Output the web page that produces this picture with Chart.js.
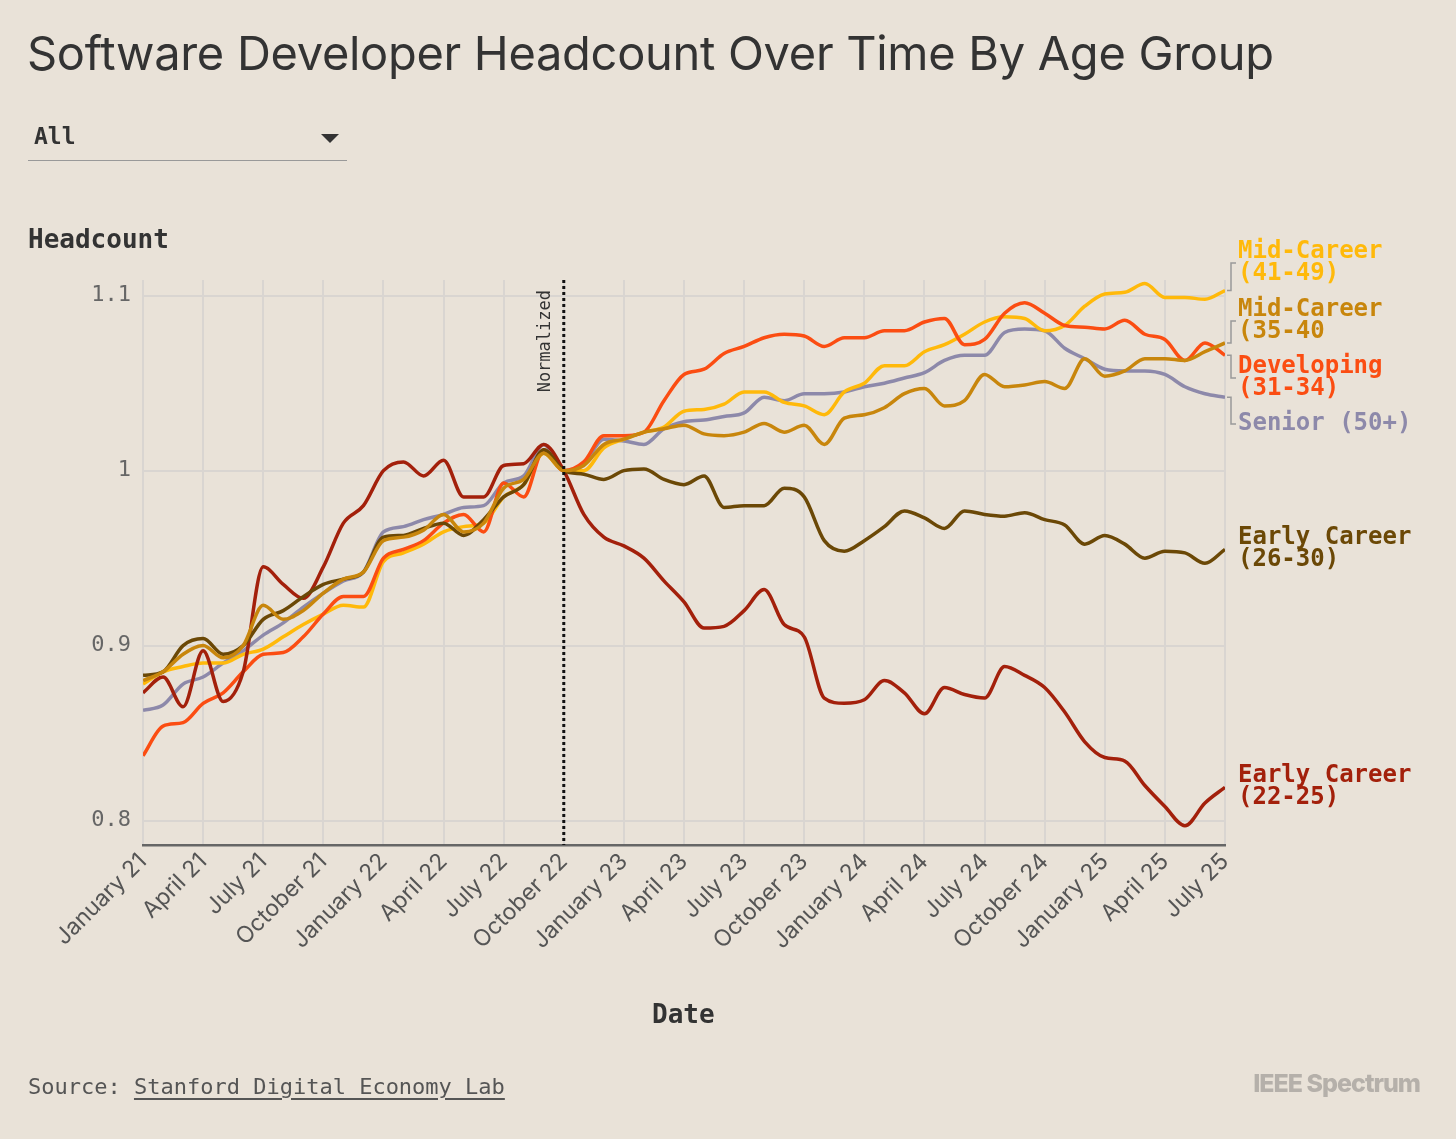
<!DOCTYPE html>
<html>
<head>
<meta charset="utf-8">
<script src="https://cdn.jsdelivr.net/npm/chart.js@4"></script>
<style>
  body { margin: 0; background: #e9e2d8; }
  #wrap { position: relative; width: 1456px; height: 1139px; overflow: hidden; font-family: "Inter", "Liberation Sans", sans-serif; color: #333; }
  #title { position: absolute; left: 27px; top: 24px; font-size: 47px; letter-spacing: -0.3px; color: #333; }
  #sel { position: absolute; left: 28px; top: 120px; width: 319px; height: 40px; border-bottom: 1px solid #999; font-family: "DejaVu Sans Mono", monospace; font-weight: bold; font-size: 23px; color: #333; }
  #sel span { position: absolute; left: 6px; top: 3px; }
  #sel i { position: absolute; right: 8px; top: 14px; width: 0; height: 0; border-left: 9px solid transparent; border-right: 9px solid transparent; border-top: 9px solid #333; }
  #ylab { position: absolute; left: 28px; top: 224px; font-family: "DejaVu Sans Mono", monospace; font-weight: bold; font-size: 26px; color: #333; }
  #xlab { position: absolute; left: 652px; top: 999px; font-family: "DejaVu Sans Mono", monospace; font-weight: bold; font-size: 26px; color: #333; }
  #src { position: absolute; left: 28px; top: 1074px; font-family: "DejaVu Sans Mono", monospace; font-size: 22px; color: #555; }
  #src u { text-underline-offset: 4px; }
  #logo { position: absolute; right: 36px; top: 1068px; font-family: "Inter", sans-serif; font-weight: 800; font-size: 25px; color: #b5b0aa; letter-spacing: -1px; }
  canvas { position: absolute; left: 0; top: 0; }
</style>
</head>
<body>
<div id="wrap">
  <canvas id="c" width="1456" height="1139"></canvas>
  <div id="title">Software Developer Headcount Over Time By Age Group</div>
  <div id="sel"><span>All</span><i></i></div>
  <div id="ylab">Headcount</div>
  <div id="xlab">Date</div>
  <div id="src">Source: <u>Stanford Digital Economy Lab</u></div>
  <div id="logo">IEEE Spectrum</div>
</div>
<script>
// 月份刻度标签（每3个月一个）
const tickLabels = ['January 21','April 21','July 21','October 21','January 22','April 22','July 22','October 22',
  'January 23','April 23','July 23','October 23','January 24','April 24','July 24','October 24',
  'January 25','April 25','July 25'];

// 数据：2021年1月 至 2025年7月，每月一个点
const early2225 = [0.873,0.882,0.865,0.897,0.868,0.885,0.945,0.935,0.927,0.945,0.97,0.98,1.0,1.005,0.997,1.006,0.985,0.985,1.003,1.004,1.015,1.0,
  0.975,0.962,0.957,0.95,0.937,0.925,0.91,0.911,0.92,0.932,0.912,0.905,0.87,0.867,0.869,0.88,0.873,0.861,0.876,0.872,0.87,0.888,0.883,0.876,0.862,0.845,0.836,0.834,0.82,0.808,0.797,0.81,0.819];
const early2630 = [0.883,0.885,0.9,0.904,0.895,0.9,0.915,0.92,0.928,0.935,0.938,0.942,0.962,0.963,0.967,0.97,0.963,0.972,0.985,0.992,1.012,1.0,
  0.998,0.995,1.0,1.001,0.995,0.992,0.997,0.979,0.98,0.98,0.99,0.985,0.96,0.954,0.96,0.968,0.977,0.973,0.967,0.977,0.975,0.974,0.976,0.972,0.969,0.958,0.963,0.958,0.95,0.954,0.953,0.947,0.955];
const dev3134 = [0.837,0.854,0.856,0.867,0.873,0.885,0.895,0.896,0.905,0.918,0.928,0.928,0.95,0.955,0.96,0.97,0.975,0.965,0.993,0.985,1.012,1.0,
  1.005,1.02,1.02,1.022,1.04,1.055,1.058,1.067,1.071,1.076,1.078,1.077,1.071,1.076,1.076,1.08,1.08,1.085,1.087,1.072,1.075,1.09,1.096,1.09,1.083,1.082,1.081,1.086,1.078,1.075,1.063,1.073,1.066];
const mid3540 = [0.88,0.885,0.895,0.9,0.893,0.9,0.923,0.915,0.92,0.93,0.938,0.942,0.96,0.962,0.966,0.975,0.965,0.97,0.99,0.995,1.01,1.0,
  1.003,1.015,1.018,1.022,1.024,1.026,1.021,1.02,1.022,1.027,1.022,1.026,1.015,1.03,1.032,1.036,1.044,1.047,1.037,1.04,1.055,1.048,1.049,1.051,1.047,1.064,1.054,1.057,1.064,1.064,1.063,1.068,1.073];
const mid4149 = [0.878,0.885,0.888,0.89,0.89,0.895,0.898,0.905,0.912,0.918,0.923,0.922,0.948,0.953,0.958,0.965,0.968,0.97,0.985,0.992,1.01,1.0,
  1.0,1.013,1.018,1.022,1.025,1.034,1.035,1.038,1.045,1.045,1.039,1.037,1.032,1.045,1.05,1.06,1.06,1.068,1.072,1.078,1.085,1.088,1.087,1.08,1.083,1.094,1.101,1.102,1.107,1.099,1.099,1.098,1.103];
const senior50 = [0.863,0.866,0.878,0.882,0.89,0.897,0.906,0.913,0.922,0.93,0.937,0.942,0.965,0.968,0.972,0.975,0.979,0.98,0.993,0.997,1.015,1.0,
  1.004,1.018,1.017,1.015,1.024,1.028,1.029,1.031,1.033,1.042,1.04,1.044,1.044,1.045,1.048,1.05,1.053,1.056,1.063,1.066,1.066,1.079,1.081,1.08,1.07,1.064,1.058,1.057,1.057,1.055,1.048,1.044,1.042];

const normIndex = 21; // October 22

const series = [
  { data: mid3540, color: '#c8860c', label: ['Mid-Career', '(35-40'], ly: 310, bracket: true },
  { data: early2630, color: '#6b4806', label: ['Early Career', '(26-30)'], ly: 538 },
  { data: early2225, color: '#a3200b', label: ['Early Career', '(22-25)'], ly: 776 },
  { data: dev3134, color: '#fb4d12', label: ['Developing', '(31-34)'], ly: 367, bracket: true },
  { data: mid4149, color: '#ffb90a', label: ['Mid-Career', '(41-49)'], ly: 252, bracket: true },
  { data: senior50, color: '#8d89aa', label: ['Senior (50+)'], ly: 424, bracket: true },
];

const mono = '"DejaVu Sans Mono", monospace';

// 右侧标签与虚线
const overlay = {
  id: 'overlay',
  afterDatasetsDraw(chart) {
    const { ctx, scales: { x, y }, chartArea } = chart;
    ctx.save();
    // Normalized 虚线
    const nx = x.getPixelForValue(normIndex);
    ctx.strokeStyle = '#111';
    ctx.lineWidth = 3;
    ctx.setLineDash([3, 3]);
    ctx.beginPath();
    ctx.moveTo(nx, chartArea.top);
    ctx.lineTo(nx, chartArea.bottom);
    ctx.stroke();
    ctx.setLineDash([]);
    ctx.translate(nx - 10, chartArea.top + 10);
    ctx.rotate(-Math.PI / 2);
    ctx.fillStyle = '#333';
    ctx.font = '17px ' + mono;
    ctx.textAlign = 'right';
    ctx.textBaseline = 'bottom';
    ctx.fillText('Normalized', 0, 0);
    ctx.restore();

    ctx.save();
    ctx.font = 'bold 24px ' + mono;
    ctx.textBaseline = 'middle';
    series.forEach(s => {
      const last = s.data[s.data.length - 1];
      const ey = y.getPixelForValue(last);
      const ex = x.getPixelForValue(s.data.length - 1);
      ctx.fillStyle = s.color;
      s.label.forEach((t, i) => ctx.fillText(t, 1238, s.ly + i * 22));
      if (s.bracket) {
        const midY = s.ly + (s.label.length - 1) * 11;
        ctx.strokeStyle = '#999';
        ctx.lineWidth = 1.5;
        ctx.beginPath();
        ctx.moveTo(ex + 2, ey);
        ctx.lineTo(ex + 6, ey);
        ctx.lineTo(ex + 6, midY);
        ctx.lineTo(ex + 11, midY);
        ctx.stroke();
      }
    });
    ctx.restore();
  }
};

new Chart(document.getElementById('c'), {
  type: 'line',
  data: {
    datasets: series.map(s => ({
      data: s.data.map((v, i) => ({ x: i, y: v })),
      borderColor: s.color,
      borderWidth: 3.5,
      pointRadius: 0,
      tension: 0.4,
      cubicInterpolationMode: 'monotone',
    })),
  },
  options: {
    responsive: false,
    animation: false,
    layout: { padding: { left: 0, right: 231, top: 280, bottom: 94 } },
    plugins: { legend: { display: false }, tooltip: { enabled: false } },
    scales: {
      x: {
        type: 'linear',
        min: 0,
        max: 54,
        afterFit: s => { s.height = 200; },
        afterBuildTicks: s => { s.ticks = tickLabels.map((_, i) => ({ value: i * 3 })); },
        ticks: {
          autoSkip: false,
          maxRotation: 45,
          minRotation: 45,
          color: '#555',
          font: { family: 'Inter, sans-serif', size: 23 },
          callback: v => tickLabels[v / 3],
        },
        grid: { color: '#d9d5d1', lineWidth: 2, drawTicks: false },
        border: { color: '#666', width: 2.5 },
      },
      y: {
        min: 0.786,
        max: 1.109,
        afterFit: s => { s.width = 143; },
        afterBuildTicks: s => { s.ticks = [0.8, 0.9, 1, 1.1].map(v => ({ value: v })); },
        ticks: {
          color: '#666',
          padding: 12,
          font: { family: mono, size: 22 },
          callback: v => String(v),
        },
        grid: { color: '#d9d5d1', lineWidth: 2, drawTicks: false },
        border: { display: false },
      },
    },
  },
  plugins: [overlay],
});
</script>
</body>
</html>
